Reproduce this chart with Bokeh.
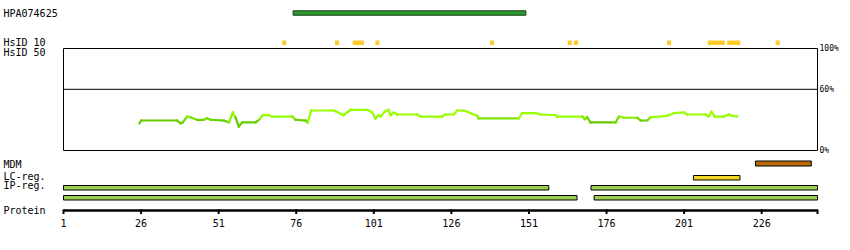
from bokeh.plotting import figure
from bokeh.models import Range1d
from bokeh.core.properties import value
from bokeh.embed import file_html
from bokeh.resources import INLINE

# ---------------- data ----------------
protein_length = 244
tick_residues = [1, 26, 51, 76, 101, 126, 151, 176, 201, 226]
tick_labels = ["1", "26", "51", "76", "101", "126", "151", "176", "201", "226"]

antigen_name = "HPA074625"
antigen_start = [75]
antigen_end = [150]

hsid10_start = [71.5, 88.5, 94.2, 101.5, 138.5, 163.5, 165.5, 195.5, 208.6, 214.9, 230.5]
hsid10_end = [72.8, 89.8, 97.8, 102.8, 139.8, 164.8, 166.8, 196.8, 214.1, 219.1, 231.8]

identity_residue = [25.5, 26.1, 37.6, 38.7, 39.4, 40.9, 41.9, 44.1, 46.2, 47.3, 48.4, 52.7,
                    54.3, 55.6, 56.4, 57.5, 58.6, 62.9, 64.2, 65.2, 67.2, 68.3, 74.7, 75.8,
                    79.0, 79.7, 80.8, 88.1, 88.7, 91.3, 92.9, 93.5, 98.9, 100.5, 101.5, 102.6,
                    103.2, 104.5, 105.6, 106.4, 107.4, 108.5, 115.0, 116.0, 123.0, 124.1, 126.8,
                    127.9, 130.0, 132.2, 134.3, 134.8, 147.7, 148.8, 153.1, 154.7, 159.6, 160.1,
                    168.2, 169.0, 169.8, 170.8, 178.9, 180.0, 181.6, 185.9, 187.0, 189.1, 190.2,
                    195.5, 197.7, 200.9, 202.0, 207.9, 208.9, 209.8, 210.9, 213.8, 215.4, 216.5,
                    218.1]
identity_pct = [26.8, 29.4, 29.4, 26.8, 27.5, 33.3, 32.6, 30.1, 30.1, 31.7, 30.1, 29.4,
                27.5, 37.3, 32.4, 23.5, 27.5, 27.5, 30.7, 34.6, 34.6, 33.3, 33.3, 30.1,
                29.4, 27.5, 39.2, 39.2, 38.5, 34.6, 38.5, 39.9, 39.9, 37.3, 31.4, 34.6,
                33.3, 37.9, 39.9, 34.6, 37.3, 35.3, 35.3, 33.3, 33.3, 35.3, 35.3,
                39.2, 39.2, 36.6, 34.0, 31.4, 31.4, 36.6, 36.6, 35.3, 34.6, 33.3,
                33.3, 30.7, 32.6, 27.5, 27.5, 33.3, 32.1, 32.1, 29.4, 29.4, 32.6,
                34.0, 36.6, 37.3, 35.3, 35.3, 33.3, 37.9, 33.3, 33.3, 35.3, 34.0,
                33.3]

mdm_start = [224]
mdm_end = [242]
lc_start = [204]
lc_end = [219]
ip_row1_start = [1, 171]
ip_row1_end = [157.4, 244]
ip_row2_start = [1, 172]
ip_row2_end = [166.5, 244]

pct_labels = ["100%", "60%", "0%"]
pct_values = [100, 60, 0]

# ---------------- layout helpers ----------------
W, H = 850, 250
X0 = 63.0        # pixel of residue 1
PPR = 3.103      # pixels per residue


def px2r(px):
    return 1 + (px - X0) / PPR


PCT_ZERO_Y = 150.0
PCT_SCALE = 1.02

p = figure(width=W, height=H, output_backend="svg", toolbar_location=None,
           x_axis_type=None, y_axis_type=None, min_border=0,
           x_range=Range1d(px2r(0), px2r(W)), y_range=Range1d(H, 0))
p.outline_line_color = None
p.background_fill_color = "white"
p.border_fill_color = "white"
p.grid.visible = False
p.extra_y_ranges = {"pct": Range1d(-(H - PCT_ZERO_Y) / PCT_SCALE, PCT_ZERO_Y / PCT_SCALE)}

FONT = value("DejaVu Sans Mono")

# left labels
left_labels = [("HPA074625", 12.5), ("HsID 10", 42), ("HsID 50", 52), ("MDM", 164),
               ("LC-reg.", 176), ("IP-reg.", 184.5), ("Protein", 210)]
p.text(x=[px2r(3)] * len(left_labels), y=[l[1] for l in left_labels],
       text=[l[0] if l[0] != "HPA074625" else antigen_name for l in left_labels],
       text_font=FONT, text_font_size="10px", text_color="black",
       text_align="left", text_baseline="middle")

# antigen bar
p.quad(left=antigen_start, right=antigen_end, top=[10.3], bottom=[14.7],
       fill_color="#2f9a2f", line_color="#123d12", line_width=1)

# HsID 10 marks
p.quad(left=hsid10_start, right=hsid10_end, top=[40] * len(hsid10_start),
       bottom=[44.5] * len(hsid10_start), fill_color="#ffc926", line_color=None)

# identity frame
p.quad(left=[1], right=[protein_length], bottom=[0], top=[100], y_range_name="pct",
       fill_color=None, line_color="black", line_width=1)
p.segment(x0=[1], x1=[protein_length], y0=[60], y1=[60], y_range_name="pct",
          line_color="black", line_width=1)
p.text(x=[px2r(819)] * 3, y=pct_values, text=pct_labels, y_range_name="pct",
       text_font=FONT, text_font_size="8px", text_color="black",
       text_align="left", text_baseline="middle")


# identity line, colour by level
def level_color(v):
    t = min(max((v - 29.5) / (33.5 - 29.5), 0), 1)
    r = int(0x66 + t * (0x99 - 0x66))
    g = int(0xcc + t * (0xff - 0xcc))
    return "#%02x%02x00" % (r, g)


x0s, x1s, y0s, y1s, cols = [], [], [], [], []
for i in range(len(identity_residue) - 1):
    x0s.append(identity_residue[i]); x1s.append(identity_residue[i + 1])
    y0s.append(identity_pct[i]); y1s.append(identity_pct[i + 1])
    cols.append(level_color((identity_pct[i] + identity_pct[i + 1]) / 2))
p.segment(x0=x0s, x1=x1s, y0=y0s, y1=y1s, y_range_name="pct",
          line_color=cols, line_width=2.2, line_cap="square", line_join="miter")

# feature tracks
p.quad(left=mdm_start, right=mdm_end, top=[160.5], bottom=[165.5],
       fill_color="#b86a08", line_color="black", line_width=1)
p.quad(left=lc_start, right=lc_end, top=[175], bottom=[179.5],
       fill_color="#f2d423", line_color="black", line_width=1)
p.quad(left=ip_row1_start, right=ip_row1_end, top=[185] * 2, bottom=[189.5] * 2,
       fill_color="#9ccc50", line_color="black", line_width=1)
p.quad(left=ip_row2_start, right=ip_row2_end, top=[195] * 2, bottom=[199.5] * 2,
       fill_color="#9ccc50", line_color="black", line_width=1)

# protein axis
p.segment(x0=[1], x1=[protein_length], y0=[210], y1=[210], line_color="black", line_width=2.5)
axis_ticks = tick_residues + [protein_length]
p.segment(x0=axis_ticks, x1=axis_ticks, y0=[209] * len(axis_ticks), y1=[213.5] * len(axis_ticks),
          line_color="black", line_width=2)
p.text(x=tick_residues, y=[222] * len(tick_residues), text=tick_labels,
       text_font=FONT, text_font_size="10px", text_color="black",
       text_align="center", text_baseline="middle")

open("out.html", "w").write(file_html(p, INLINE))
